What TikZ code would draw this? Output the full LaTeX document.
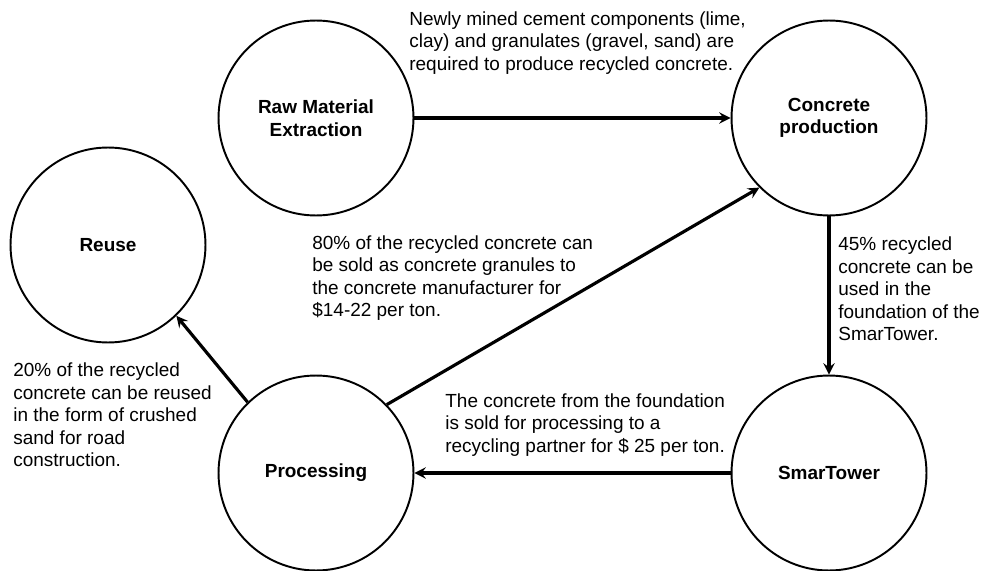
\documentclass[tikz,border=0pt]{standalone}
\usepackage{fontspec}
\setmainfont{Liberation Sans}
\begin{document}
\begin{tikzpicture}[x=0.02cm,y=-0.02cm,>=stealth,
  stage/.style={draw,circle,line width=1.1pt,minimum size=3.9cm,align=center,
    font=\fontsize{10.8}{12.8}\selectfont\bfseries},
  note/.style={anchor=west,align=left,inner sep=0pt,
    font=\fontsize{10.8}{12.8}\selectfont},
  flow/.style={->,line width=1.8pt}]
\useasboundingbox (0,0) rectangle (984,571);
% stages
\node[stage] (raw) at (316,118) {Raw Material\\Extraction};
\node[stage] (conc) at (829,118) {Concrete\\production};
\node[stage] (reuse) at (108,245) {Reuse};
\node[stage] (proc) at (316,473) {Processing};
\node[stage] (smart) at (829,473) {SmarTower};
% flows
\draw[flow] (raw) -- (conc);
\draw[flow] (conc) -- (smart);
\draw[flow] (smart) -- (proc);
\draw[flow] (proc.44) -- (conc.225);
\draw[flow] (proc.134) -- (reuse.-46);
% notes
\node[note] (supply) at (409,43) {Newly mined cement components (lime,\\clay) and granulates (gravel, sand) are\\required to produce recycled concrete.};
\node[note] (sell) at (312,278) {80\% of the recycled concrete can\\be sold as concrete granules to\\the concrete manufacturer for\\\$14-22 per ton.};
\node[note] (reusenote) at (13,415) {20\% of the recycled\\concrete can be reused\\in the form of crushed\\sand for road\\construction.};
\node[note] (found) at (838,289) {45\% recycled\\concrete can be\\used in the\\foundation of the\\SmarTower.};
\node[note] (partner) at (445,425) {The concrete from the foundation\\is sold for processing to a\\recycling partner for \$ 25 per ton.};
\end{tikzpicture}
\end{document}
